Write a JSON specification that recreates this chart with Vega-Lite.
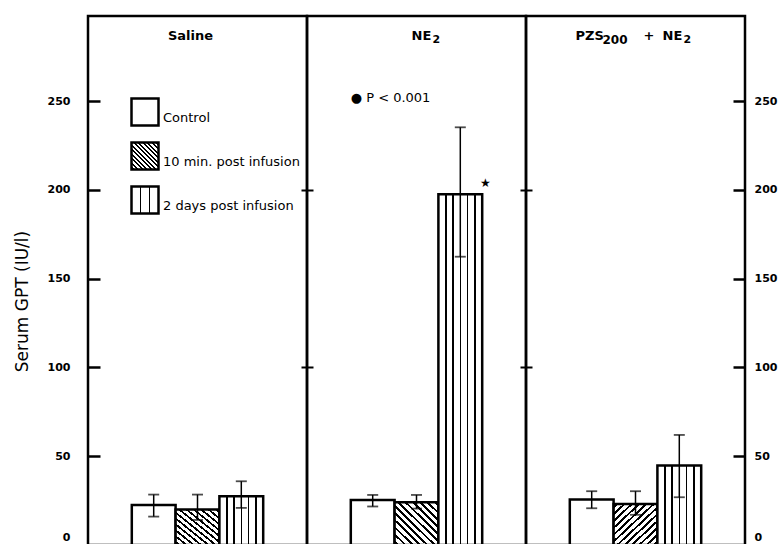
{
  "$schema": "https://vega.github.io/schema/vega-lite/v6.json",
  "padding": {"left": 11, "top": 14, "right": 0, "bottom": 0},
  "bounds": "flush",
  "spacing": 0,
  "background": "white",
  "params": [
    {"name": "diagStops", "expr": "[{offset:0,color:'white'},{offset:0.026,color:'white'},{offset:0.026,color:'black'},{offset:0.058,color:'black'},{offset:0.058,color:'white'},{offset:0.109,color:'white'},{offset:0.109,color:'black'},{offset:0.141,color:'black'},{offset:0.141,color:'white'},{offset:0.192,color:'white'},{offset:0.192,color:'black'},{offset:0.224,color:'black'},{offset:0.224,color:'white'},{offset:0.276,color:'white'},{offset:0.276,color:'black'},{offset:0.308,color:'black'},{offset:0.308,color:'white'},{offset:0.359,color:'white'},{offset:0.359,color:'black'},{offset:0.391,color:'black'},{offset:0.391,color:'white'},{offset:0.442,color:'white'},{offset:0.442,color:'black'},{offset:0.474,color:'black'},{offset:0.474,color:'white'},{offset:0.526,color:'white'},{offset:0.526,color:'black'},{offset:0.558,color:'black'},{offset:0.558,color:'white'},{offset:0.609,color:'white'},{offset:0.609,color:'black'},{offset:0.641,color:'black'},{offset:0.641,color:'white'},{offset:0.692,color:'white'},{offset:0.692,color:'black'},{offset:0.724,color:'black'},{offset:0.724,color:'white'},{offset:0.776,color:'white'},{offset:0.776,color:'black'},{offset:0.808,color:'black'},{offset:0.808,color:'white'},{offset:0.859,color:'white'},{offset:0.859,color:'black'},{offset:0.891,color:'black'},{offset:0.891,color:'white'},{offset:0.942,color:'white'},{offset:0.942,color:'black'},{offset:0.974,color:'black'},{offset:0.974,color:'white'},{offset:1,color:'white'}]"},
    {"name": "vertStops", "expr": "[{offset:0,color:'white'},{offset:0.149,color:'white'},{offset:0.149,color:'black'},{offset:0.185,color:'black'},{offset:0.185,color:'white'},{offset:0.315,color:'white'},{offset:0.315,color:'black'},{offset:0.351,color:'black'},{offset:0.351,color:'white'},{offset:0.482,color:'white'},{offset:0.482,color:'black'},{offset:0.518,color:'black'},{offset:0.518,color:'white'},{offset:0.649,color:'white'},{offset:0.649,color:'black'},{offset:0.685,color:'black'},{offset:0.685,color:'white'},{offset:0.815,color:'white'},{offset:0.815,color:'black'},{offset:0.851,color:'black'},{offset:0.851,color:'white'},{offset:1,color:'white'}]"},
    {"name": "diagB", "expr": "{gradient:'linear',x1:0,y1:1,x2:1,y2:0,stops:diagStops}"},
    {"name": "diagF", "expr": "{gradient:'linear',x1:0,y1:0,x2:1,y2:1,stops:diagStops}"},
    {"name": "vert", "expr": "{gradient:'linear',x1:0,y1:0,x2:1,y2:0,stops:vertStops}"}
  ],
  "datasets": {
    "bars": [
      {"group": "Saline", "treatment": "Control", "mean": 22.5, "lo": 16.0, "hi": 28.4},
      {"group": "Saline", "treatment": "10 min. post infusion", "mean": 20.0, "lo": 14.1, "hi": 28.4},
      {"group": "Saline", "treatment": "2 days post infusion", "mean": 27.5, "lo": 20.9, "hi": 35.9},
      {"group": "NE2", "treatment": "Control", "mean": 25.4, "lo": 21.7, "hi": 28.2},
      {"group": "NE2", "treatment": "10 min. post infusion", "mean": 24.1, "lo": 20.5, "hi": 28.2},
      {"group": "NE2", "treatment": "2 days post infusion", "mean": 197.6, "lo": 162.4, "hi": 235.3},
      {"group": "PZS200 + NE2", "treatment": "Control", "mean": 25.6, "lo": 20.7, "hi": 30.3},
      {"group": "PZS200 + NE2", "treatment": "10 min. post infusion", "mean": 23.1, "lo": 17.0, "hi": 30.3},
      {"group": "PZS200 + NE2", "treatment": "2 days post infusion", "mean": 44.8, "lo": 26.9, "hi": 62.0}
    ]
  },
  "config": {
    "font": "DejaVu Sans",
    "view": {"stroke": "black", "strokeWidth": 2.5},
    "axis": {"labelColor": "black", "tickColor": "black", "titleColor": "black", "grid": false, "domain": false},
    "text": {"color": "black", "baseline": "middle", "align": "left", "fontWeight": "bold", "fontSize": 13}
  },
  "hconcat": [
    {
      "width": 219, "height": 529,
      "resolve": {"axis": {"y": "independent"}},
      "layer": [
        {
          "data": {"name": "bars"},
          "transform": [{"filter": "datum.group === 'Saline'"}],
          "mark": {"type": "bar", "stroke": "black", "strokeWidth": 2.5},
          "encoding": {
            "x": {"field": "treatment", "type": "nominal", "scale": {"domain": ["Control", "10 min. post infusion", "2 days post infusion"], "paddingInner": 0, "paddingOuter": 1}, "axis": null},
            "y": {"field": "mean", "type": "quantitative", "scale": {"domain": [0, 298], "nice": false},
              "axis": {"orient": "left", "values": [0, 50, 100, 150, 200, 250], "offset": -12, "tickSize": 12, "tickWidth": 2.5, "labelPadding": 18, "labelFontSize": 11, "labelFontWeight": "bold",
                "labelFlush": 5, "labelFlushOffset": -3,
                "title": "Serum GPT (IU/l)", "titleFontSize": 17, "titleFontWeight": "normal", "titlePadding": 16, "titleY": 285}},
            "fill": {"field": "treatment", "type": "nominal",
              "scale": {"domain": ["Control", "10 min. post infusion", "2 days post infusion"], "range": ["white", {"expr": "diagB"}, {"expr": "vert"}]},
              "legend": {"orient": "none", "legendX": 42, "legendY": 81, "title": null, "symbolType": "square", "symbolSize": 729, "symbolStrokeColor": "black", "symbolStrokeWidth": 2.5, "labelFontSize": 13, "labelColor": "black", "labelBaseline": "top", "labelOffset": 3, "rowPadding": 6, "padding": 0, "symbolOffset": 0}}
          }
        },
        {
          "data": {"name": "bars"},
          "transform": [{"filter": "datum.group === 'Saline'"}],
          "mark": {"type": "rule", "color": "black", "strokeWidth": 1.5},
          "encoding": {
            "x": {"field": "treatment", "type": "nominal", "axis": null},
            "y": {"field": "lo", "type": "quantitative", "axis": null},
            "y2": {"field": "hi"}
          }
        },
        {
          "data": {"name": "bars"},
          "transform": [{"filter": "datum.group === 'Saline'"}],
          "mark": {"type": "tick", "color": "black", "size": 11, "thickness": 1.8},
          "encoding": {
            "x": {"field": "treatment", "type": "nominal", "axis": null},
            "y": {"field": "hi", "type": "quantitative", "axis": null}
          }
        },
        {
          "data": {"name": "bars"},
          "transform": [{"filter": "datum.group === 'Saline'"}],
          "mark": {"type": "tick", "color": "black", "size": 11, "thickness": 1.8},
          "encoding": {
            "x": {"field": "treatment", "type": "nominal", "axis": null},
            "y": {"field": "lo", "type": "quantitative", "axis": null}
          }
        },
        {
          "data": {"values": [{"label": "Saline"}]},
          "mark": {"type": "text", "align": "center", "dx": -7},
          "encoding": {
            "x": {"datum": "10 min. post infusion", "type": "nominal", "axis": null},
            "y": {"datum": 287, "type": "quantitative", "axis": null},
            "text": {"field": "label"}
          }
        }
      ]
    },
    {
      "width": 219, "height": 529,
      "resolve": {"axis": {"y": "independent"}},
      "layer": [
        {
          "data": {"name": "bars"},
          "transform": [{"filter": "datum.group === 'NE2'"}],
          "mark": {"type": "bar", "stroke": "black", "strokeWidth": 2.5},
          "encoding": {
            "x": {"field": "treatment", "type": "nominal", "scale": {"domain": ["Control", "10 min. post infusion", "2 days post infusion"], "paddingInner": 0, "paddingOuter": 1}, "axis": null},
            "y": {"field": "mean", "type": "quantitative", "scale": {"domain": [0, 298], "nice": false},
              "axis": {"orient": "left", "values": [100, 200], "offset": -6, "tickSize": 12, "tickWidth": 2, "labels": false, "title": null}},
            "fill": {"field": "treatment", "type": "nominal",
              "scale": {"domain": ["Control", "10 min. post infusion", "2 days post infusion"], "range": ["white", {"expr": "diagB"}, {"expr": "vert"}]},
              "legend": {"orient": "none", "legendX": 42, "legendY": 81, "title": null, "symbolType": "square", "symbolSize": 729, "symbolStrokeColor": "black", "symbolStrokeWidth": 2.5, "labelFontSize": 13, "labelColor": "black", "labelBaseline": "top", "labelOffset": 3, "rowPadding": 6, "padding": 0, "symbolOffset": 0}}
          }
        },
        {
          "data": {"name": "bars"},
          "transform": [{"filter": "datum.group === 'NE2'"}],
          "mark": {"type": "rule", "color": "black", "strokeWidth": 1.5},
          "encoding": {
            "x": {"field": "treatment", "type": "nominal", "axis": null},
            "y": {"field": "lo", "type": "quantitative", "axis": null},
            "y2": {"field": "hi"}
          }
        },
        {
          "data": {"name": "bars"},
          "transform": [{"filter": "datum.group === 'NE2'"}],
          "mark": {"type": "tick", "color": "black", "size": 11, "thickness": 1.8},
          "encoding": {
            "x": {"field": "treatment", "type": "nominal", "axis": null},
            "y": {"field": "hi", "type": "quantitative", "axis": null}
          }
        },
        {
          "data": {"name": "bars"},
          "transform": [{"filter": "datum.group === 'NE2'"}],
          "mark": {"type": "tick", "color": "black", "size": 11, "thickness": 1.8},
          "encoding": {
            "x": {"field": "treatment", "type": "nominal", "axis": null},
            "y": {"field": "lo", "type": "quantitative", "axis": null}
          }
        },
        {
          "data": {"values": [{"label": "NE"}]},
          "mark": {"type": "text", "dx": -5},
          "encoding": {
            "x": {"datum": "10 min. post infusion", "type": "nominal", "axis": null},
            "y": {"datum": 287, "type": "quantitative", "axis": null},
            "text": {"field": "label"}
          }
        },
        {
          "data": {"values": [{"label": "2"}]},
          "mark": {"type": "text", "dx": 16, "dy": 4, "fontSize": 11},
          "encoding": {
            "x": {"datum": "10 min. post infusion", "type": "nominal", "axis": null},
            "y": {"datum": 287, "type": "quantitative", "axis": null},
            "text": {"field": "label"}
          }
        },
        {
          "data": {"values": [{"label": "● P < 0.001"}]},
          "mark": {"type": "text", "fontWeight": "normal", "dx": -22},
          "encoding": {
            "x": {"datum": "Control", "type": "nominal", "axis": null},
            "y": {"datum": 252, "type": "quantitative", "axis": null},
            "text": {"field": "label"}
          }
        },
        {
          "data": {"values": [{"label": "★"}]},
          "mark": {"type": "text", "fontWeight": "normal", "fontSize": 12, "align": "center", "dx": 25, "dy": -11},
          "encoding": {
            "x": {"datum": "2 days post infusion", "type": "nominal", "axis": null},
            "y": {"datum": 197.6, "type": "quantitative", "axis": null},
            "text": {"field": "label"}
          }
        }
      ]
    },
    {
      "width": 219, "height": 529,
      "resolve": {"axis": {"y": "independent"}},
      "layer": [
        {
          "data": {"name": "bars"},
          "transform": [{"filter": "datum.group === 'PZS200 + NE2'"}],
          "mark": {"type": "bar", "stroke": "black", "strokeWidth": 2.5},
          "encoding": {
            "x": {"field": "treatment", "type": "nominal", "scale": {"domain": ["Control", "10 min. post infusion", "2 days post infusion"], "paddingInner": 0, "paddingOuter": 1}, "axis": null},
            "y": {"field": "mean", "type": "quantitative", "scale": {"domain": [0, 298], "nice": false},
              "axis": {"orient": "left", "values": [100, 200], "offset": -6, "tickSize": 12, "tickWidth": 2, "labels": false, "title": null}},
            "fill": {"field": "treatment", "type": "nominal",
              "condition": {"test": "datum.treatment === '10 min. post infusion'", "value": {"expr": "diagF"}},
              "scale": {"domain": ["Control", "10 min. post infusion", "2 days post infusion"], "range": ["white", {"expr": "diagB"}, {"expr": "vert"}]},
              "legend": {"orient": "none", "legendX": 42, "legendY": 81, "title": null, "symbolType": "square", "symbolSize": 729, "symbolStrokeColor": "black", "symbolStrokeWidth": 2.5, "labelFontSize": 13, "labelColor": "black", "labelBaseline": "top", "labelOffset": 3, "rowPadding": 6, "padding": 0, "symbolOffset": 0}}
          }
        },
        {
          "data": {"name": "bars"},
          "transform": [{"filter": "datum.group === 'PZS200 + NE2'"}],
          "mark": {"type": "rule", "color": "black", "strokeWidth": 1.5},
          "encoding": {
            "x": {"field": "treatment", "type": "nominal", "axis": null},
            "y": {"field": "lo", "type": "quantitative",
              "axis": {"orient": "right", "values": [0, 50, 100, 150, 200, 250], "offset": -12, "tickSize": 12, "tickWidth": 2.5, "labelPadding": 9, "labelFontSize": 11, "labelFontWeight": "bold",
                "labelFlush": 5, "labelFlushOffset": -3,
                "title": null}},
            "y2": {"field": "hi"}
          }
        },
        {
          "data": {"name": "bars"},
          "transform": [{"filter": "datum.group === 'PZS200 + NE2'"}],
          "mark": {"type": "tick", "color": "black", "size": 11, "thickness": 1.8},
          "encoding": {
            "x": {"field": "treatment", "type": "nominal", "axis": null},
            "y": {"field": "hi", "type": "quantitative", "axis": null}
          }
        },
        {
          "data": {"name": "bars"},
          "transform": [{"filter": "datum.group === 'PZS200 + NE2'"}],
          "mark": {"type": "tick", "color": "black", "size": 11, "thickness": 1.8},
          "encoding": {
            "x": {"field": "treatment", "type": "nominal", "axis": null},
            "y": {"field": "lo", "type": "quantitative", "axis": null}
          }
        },
        {
          "data": {"values": [{"label": "PZS"}]},
          "mark": {"type": "text", "dx": -60},
          "encoding": {
            "x": {"datum": "10 min. post infusion", "type": "nominal", "axis": null},
            "y": {"datum": 287, "type": "quantitative", "axis": null},
            "text": {"field": "label"}
          }
        },
        {
          "data": {"values": [{"label": "200"}]},
          "mark": {"type": "text", "dx": -33, "dy": 4, "fontSize": 12},
          "encoding": {
            "x": {"datum": "10 min. post infusion", "type": "nominal", "axis": null},
            "y": {"datum": 287, "type": "quantitative", "axis": null},
            "text": {"field": "label"}
          }
        },
        {
          "data": {"values": [{"label": "+"}]},
          "mark": {"type": "text", "dx": 8},
          "encoding": {
            "x": {"datum": "10 min. post infusion", "type": "nominal", "axis": null},
            "y": {"datum": 287, "type": "quantitative", "axis": null},
            "text": {"field": "label"}
          }
        },
        {
          "data": {"values": [{"label": "NE"}]},
          "mark": {"type": "text", "dx": 27},
          "encoding": {
            "x": {"datum": "10 min. post infusion", "type": "nominal", "axis": null},
            "y": {"datum": 287, "type": "quantitative", "axis": null},
            "text": {"field": "label"}
          }
        },
        {
          "data": {"values": [{"label": "2"}]},
          "mark": {"type": "text", "dx": 48, "dy": 4, "fontSize": 11},
          "encoding": {
            "x": {"datum": "10 min. post infusion", "type": "nominal", "axis": null},
            "y": {"datum": 287, "type": "quantitative", "axis": null},
            "text": {"field": "label"}
          }
        }
      ]
    }
  ]
}
